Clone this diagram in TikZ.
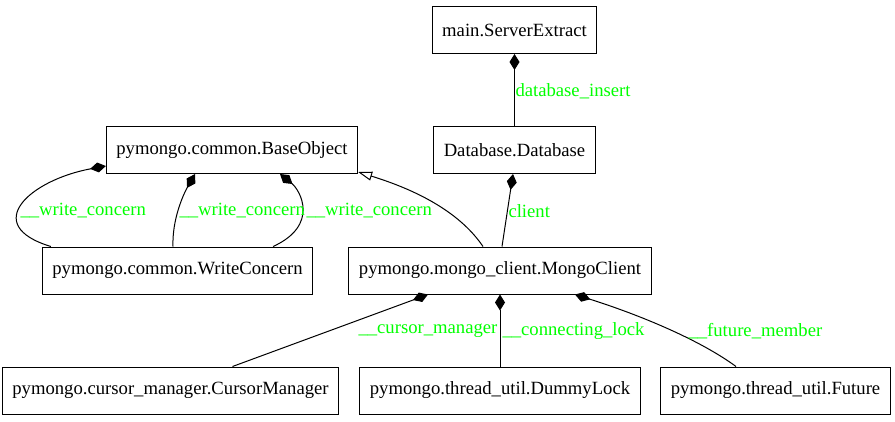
\documentclass[tikz,border=0pt]{standalone}
\usepackage{fontspec}
\setmainfont{Liberation Serif}
\usetikzlibrary{arrows.meta}

\tikzset{
  cls/.style={draw, rectangle, minimum height=47pt, inner xsep=10pt, font=\fontsize{18.67pt}{21pt}\selectfont},
  lbl/.style={text={rgb,255:red,0;green,255;blue,0}, anchor=west, inner sep=0pt, font=\fontsize{18.67pt}{21pt}\selectfont},
  comp/.style={{Diamond[length=16pt,width=10pt]}-},
  inh/.style={{Triangle[open,length=14pt,width=9pt]}-}
}

\begin{document}
\begin{tikzpicture}[x=1pt, y=-1pt, line width=1pt]
  \useasboundingbox (0,0) rectangle (895,421);
  \node[cls] (se) at (514.5,30) {main.ServerExtract};
  \node[cls] (db) at (514.5,150) {Database.Database};
  \node[cls] (bo) at (232,150) {pymongo.common.BaseObject};
  \node[cls] (wc) at (177.5,270.5) {pymongo.common.WriteConcern};
  \node[cls] (mc) at (500,270.5) {pymongo.mongo\_client.MongoClient};
  \node[cls] (cm) at (170.5,390.5) {pymongo.cursor\_manager.CursorManager};
  \node[cls] (dl) at (500,390.5) {pymongo.thread\_util.DummyLock};
  \node[cls] (fu) at (775.5,390.5) {pymongo.thread\_util.Future};

  \draw[comp] (se.south) -- (db.north);
  \draw[comp] ([xshift=-1.5pt]db.south) -- ([xshift=2pt]mc.north);
  \draw[inh] ([yshift=-22pt]bo.east) .. controls (400,185) and (455,205) .. ([xshift=-17pt]mc.north);
  \draw[comp] ([yshift=-16pt]bo.west) .. controls (30,180) and (-20,225) .. ([xshift=9pt]wc.north west);
  \draw[comp] ([xshift=-37pt]bo.south) .. controls (183,195) and (172,220) .. ([xshift=-4.5pt]wc.north);
  \draw[comp] ([xshift=48pt]bo.south) .. controls (300,190) and (320,225) .. ([xshift=-40pt]wc.north east);
  \draw[comp] ([xshift=-72pt]mc.south) -- ([xshift=62pt]cm.north);
  \draw[comp] (mc.south) -- (dl.north);
  \draw[comp] ([xshift=75pt]mc.south) .. controls (640,315) and (700,340) .. ([xshift=-39.5pt]fu.north);

  \node[lbl] (l-insert) at (515,91) {database\_insert};
  \node[lbl] (l-client) at (508,211) {client};
  \node[lbl] (l-wc1) at (20,211) {\_\_write\_concern};
  \node[lbl] (l-wc2) at (179,211) {\_\_write\_concern};
  \node[lbl] (l-wc3) at (306,211) {\_\_write\_concern};
  \node[lbl] (l-cursor) at (358,331) {\_\_cursor\_manager};
  \node[lbl] (l-lock) at (502,331) {\_\_connecting\_lock};
  \node[lbl] (l-future) at (688,331) {\_\_future\_member};
\end{tikzpicture}
\end{document}
